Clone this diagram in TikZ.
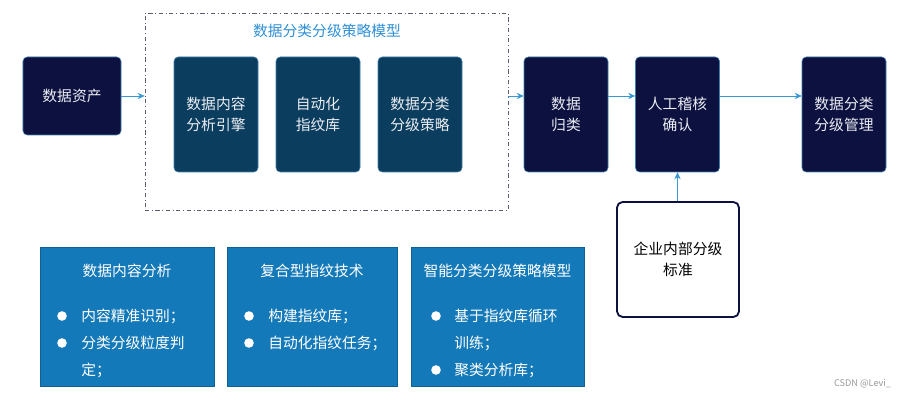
\documentclass[tikz,border=0pt]{standalone}
\usepackage{fontspec}
\setmainfont{Noto Sans CJK SC}
\usepackage{xcolor}
\usetikzlibrary{arrows.meta,positioning,calc}

\definecolor{navy}{HTML}{0C1140}
\definecolor{petrol}{HTML}{0B3E5E}
\definecolor{panelblue}{HTML}{1479B8}
\definecolor{edgeblue}{HTML}{3F7FB0}
\definecolor{flowblue}{HTML}{3A98D4}
\definecolor{titleblue}{HTML}{2F8FD6}
\definecolor{framegray}{HTML}{5A5E72}
\definecolor{boxtext}{HTML}{ECEDF3}

\begin{document}
\begin{tikzpicture}[
  x=0.25mm,y=0.25mm,
  font=\fontsize{10.5}{14.5}\selectfont,
  >={Stealth[length=5pt,width=4.5pt]},
  box/.style={rounded corners=3pt,draw=edgeblue,line width=0.4pt,align=center,text=boxtext},
  dark/.style={box,fill=navy,minimum width=21mm,minimum height=28.75mm},
  inner/.style={box,fill=petrol,minimum width=21mm,minimum height=28.75mm},
  plain/.style={rounded corners=4pt,draw=navy,line width=1.3pt,fill=white,align=center,minimum width=30.5mm,minimum height=28.75mm},
  frame/.style={draw=framegray,dash dot,line width=0.5pt,minimum width=90.75mm,minimum height=49.25mm},
  panel/.style={fill=panelblue,draw=panelblue!80!black,line width=0.3pt,minimum width=43.25mm,minimum height=34.75mm},
  item/.style={anchor=west,text=white,inner sep=0pt},
  dot/.style={circle,fill=white,inner sep=0pt,minimum size=2.4mm},
  flow/.style={->,draw=flowblue,line width=0.5pt}
]
\useasboundingbox (0,0) rectangle (909,403);

% ---- top row ----
\node[dark,minimum width=24.5mm,minimum height=19.5mm] (asset) at (72,307) {数据资产};

\node[frame] (model) at (326.5,291.5) {};
\node[text=titleblue] (modeltitle) at (327,372) {数据分类分级策略模型};
\node[inner] (engine) at (216,288.5) {数据内容\\分析引擎};
\node[inner] (fplib) at (318,288.5) {自动化\\指纹库};
\node[inner] (policy) at (420,288.5) {数据分类\\分级策略};

\node[dark] (classify) at (566,288.5) {数据\\归类};
\node[dark] (review) at (677.5,288.5) {人工稽核\\确认};
\node[dark] (manage) at (844,288.5) {数据分类\\分级管理};

\node[plain] (standard) at (678,143.5) {企业内部分级\\标准};

% ---- arrows ----
\draw[flow] (asset.east) -- (asset.east -| model.west);
\draw[flow] (model.east |- asset.east) -- (classify.west |- asset.east);
\draw[flow] (classify.east |- asset.east) -- (review.west |- asset.east);
\draw[flow] (review.east |- asset.east) -- (manage.west |- asset.east);
\draw[flow] (standard.north -| review.south) -- (review.south);

% ---- bottom panels ----
\node[panel,minimum width=43.5mm] (content) at (127,86.5) {};
\node[panel,minimum width=42.5mm] (finger) at (312,86.5) {};
\node[panel] (smart) at (497.5,86.5) {};

\node[text=white] (contenttitle) at (content.center |- 0,132) {数据内容分析};
\node[dot] (c1) at (62,87) {};
\node[item] (c1t) at (81,87) {内容精准识别；};
\node[dot] (c2) at (62,60) {};
\node[item] (c2t) at (81,60) {分类分级粒度判};
\node[item] (c3t) at (81,33) {定；};

\node[text=white] (fingertitle) at (finger.center |- 0,132) {复合型指纹技术};
\node[dot] (f1) at (249,87) {};
\node[item] (f1t) at (268,87) {构建指纹库；};
\node[dot] (f2) at (249,60) {};
\node[item] (f2t) at (268,60) {自动化指纹任务；};

\node[text=white] (smarttitle) at (smart.center |- 0,132) {智能分类分级策略模型};
\node[dot] (s1) at (436,87) {};
\node[item] (s1t) at (454,87) {基于指纹库循环};
\node[item] (s2t) at (454,60) {训练；};
\node[dot] (s3) at (436,33) {};
\node[item] (s3t) at (454,33) {聚类分析库；};

% ---- watermark ----
\node[text=gray!80,font=\fontsize{6.5}{8}\selectfont,anchor=east] (mark) at (896,19) {CSDN @Levi\_};
\end{tikzpicture}
\end{document}
